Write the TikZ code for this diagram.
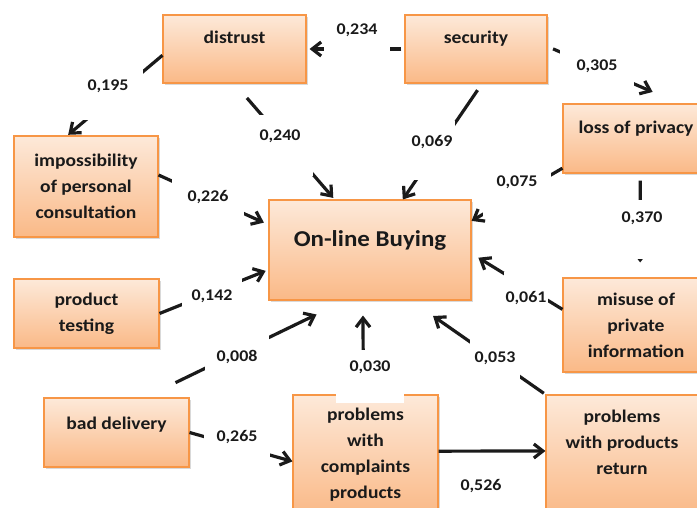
\documentclass[tikz,border=0pt]{standalone}
\usepackage{fontspec}
\setmainfont{Carlito}[FakeStretch=1.1]
\usetikzlibrary{arrows.meta,shadows}

\definecolor{boxtop}{HTML}{FDE9D9}
\definecolor{boxbot}{HTML}{FAB987}
\definecolor{boxedge}{HTML}{F79646}
\definecolor{ink}{HTML}{1A1A1A}

\tikzset{
  box/.style={rectangle, draw=boxedge, line width=1.1pt, top color=boxtop, bottom color=boxbot,
    drop shadow={shadow xshift=1.5pt, shadow yshift=-2pt, opacity=0.3},
    text=ink, font=\fontsize{17.8}{26}\selectfont\bfseries, align=center, inner sep=0pt},
  link/.style={ink, line width=3.2pt, -{Straight Barb[length=9pt,width=14pt]}},
  coef/.style={fill=white, inner sep=0pt, text=ink, font=\fontsize{16.3}{19}\selectfont\bfseries},
}

\begin{document}
\begin{tikzpicture}[x=1pt,y=-1pt]
\useasboundingbox (0,0) rectangle (697,508);
\clip (0,0) rectangle (697,508);

% boxes
\node[box, minimum width=143pt, minimum height=68pt, text height=13pt, text depth=23pt] (distrust) at (234.5,49) {distrust};
\node[box, minimum width=142pt, minimum height=68pt, text height=13pt, text depth=23pt] (security) at (476,49) {security};
\node[box, minimum width=146pt, minimum height=69pt, text height=13pt, text depth=23pt] (privacy) at (636,138.5) {loss of privacy};
\node[box, minimum width=144pt, minimum height=101pt] (imposs) at (86,186.5) {impossibility\\of personal\\consultation};
\node[box, minimum width=202pt, minimum height=100pt, text height=16pt, text depth=22pt,
  font=\fontsize{22.7}{26}\selectfont\bfseries] (buying) at (370,250) {On-line Buying};
\node[box, minimum width=145pt, minimum height=69pt] (testing) at (86.5,313.5) {product\\testing};
\node[box, minimum width=146pt, minimum height=94pt] (misuse) at (636,325) {misuse of\\private\\information};
\node[box, minimum width=145pt, minimum height=69pt, text height=13pt, text depth=20pt] (delivery) at (116.5,432.5) {bad delivery};
\node[box, minimum width=145pt, minimum height=120pt] (complaints) at (365.5,455) {problems\\with\\complaints\\products};
\node[box, minimum width=152pt, minimum height=120pt, text depth=26pt] (return) at (622,455) {problems\\with products\\return};

% paths
\draw[link, shorten <=3pt, shorten >=3pt] (security.west) -- (distrust.east);
\draw[link, shorten >=1pt] (distrust.185) -- (imposs.110);
\draw[link, shorten <=19pt, shorten >=2pt] (distrust.south) -- (buying.125);
\draw[link, shorten <=8pt] (security.-80) -- (buying.57);
\draw[link, shorten <=6pt, shorten >=29pt] (security.2) -- (privacy.39);
\draw[link, shorten >=5pt] (imposs.9) -- (buying.166);
\draw[link, shorten >=3pt] (testing.east) -- (buying.191);
\draw[link] (privacy.202) -- (buying.16);
\draw[link, shorten <=7pt, shorten >=15pt] (privacy.-83) -- (misuse.85);
\draw[link, shorten >=8pt] (misuse.168) -- (buying.-2);
\draw[link, shorten <=34pt, shorten >=32pt] (delivery.51) -- (buying.244);
\draw[link, shorten >=15pt] (complaints.92) -- (buying.262);
\draw[link, shorten <=2pt, shorten >=27pt] (return.north west) -- (buying.-51);
\draw[link] (delivery.east) -- (complaints.185);
\draw[link] (complaints.3) -- (return.177);

% coefficients
\node[coef, minimum width=66pt, text height=13pt, text depth=21pt] (c234) at (357,39) {0,234};
\node[coef, minimum width=70pt, text height=22pt, text depth=29pt] (c195) at (108,94.5) {0,195};
\node[coef, minimum width=66pt, text height=26pt, text depth=35pt] (c240) at (280,145.5) {0,240};
\node[coef, minimum width=46pt, text height=26pt, text depth=33pt] (c069) at (432,150.5) {0,069};
\node[coef, minimum width=74pt, text height=22pt, text depth=15pt] (c305) at (597,67.5) {0,305};
\node[coef, minimum width=72pt, text height=23pt, text depth=14pt] (c226) at (208,197.5) {0,226};
\node[coef, minimum width=60pt, text height=23pt, text depth=7pt] (c142) at (212,293) {0,142};
\node[coef, minimum width=68pt, text height=16pt, text depth=30pt] (c075) at (517,194) {0,075};
\node[coef, minimum width=44pt, text height=23pt, text depth=36pt] (c370) at (642,229.5) {0,370};
\node[coef, minimum width=44pt, text height=30pt, text depth=3pt] (c061) at (526,288.5) {0,061};
\node[coef, minimum width=64pt, text height=27pt, text depth=10pt] (c008) at (237,352.5) {0,008};
\node[coef, minimum width=68pt, text height=21pt, text depth=32pt] (c030) at (370,376.5) {0,030};
\node[coef, minimum width=50pt, text height=24pt, text depth=17pt] (c053) at (495,358.5) {0,053};
\node[coef, minimum width=66pt, text height=13pt, text depth=18pt] (c265) at (237,443.5) {0,265};
\node[coef, inner sep=2pt] (c526) at (481,486) {0,526};
\end{tikzpicture}
\end{document}
